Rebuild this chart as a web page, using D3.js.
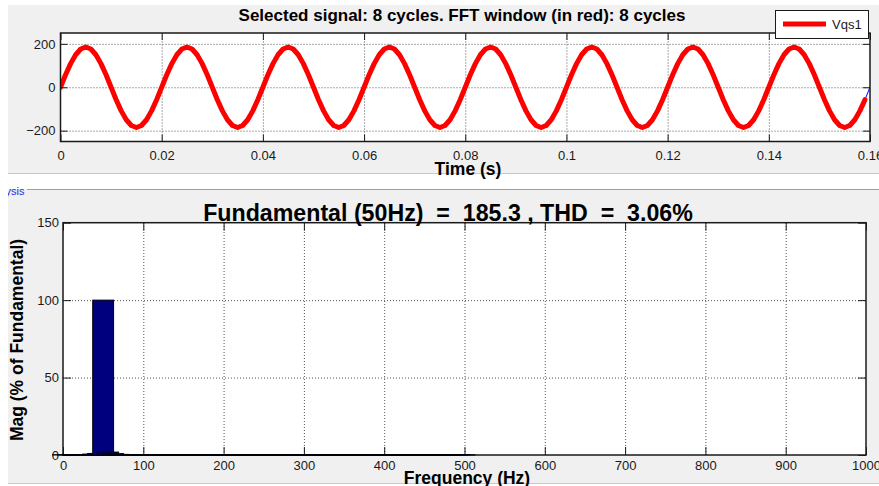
<!DOCTYPE html>
<html>
<head>
<meta charset="utf-8">
<script src="https://cdn.jsdelivr.net/npm/d3@7"></script>
<style>
  html, body { margin: 0; padding: 0; background: #ffffff; }
  svg { display: block; font-family: "Liberation Sans", Arial, Helvetica, sans-serif; }
</style>
</head>
<body>
<svg id="chart" width="879" height="486"></svg>
<script>
// ---- Signal Vqs1: one sample every 1 ms, 8 cycles of 50 Hz ----
const sampleTime = 0.001;
const vqs1 = [
  0, 57.3, 108.9, 149.9, 176.2, 185.3, 176.2, 149.9, 108.9, 57.3, 0, -57.3, -108.9, -149.9, -176.2, -185.3, -176.2, -149.9, -108.9, -57.3,
  0, 57.3, 108.9, 149.9, 176.2, 185.3, 176.2, 149.9, 108.9, 57.3, 0, -57.3, -108.9, -149.9, -176.2, -185.3, -176.2, -149.9, -108.9, -57.3,
  0, 57.3, 108.9, 149.9, 176.2, 185.3, 176.2, 149.9, 108.9, 57.3, 0, -57.3, -108.9, -149.9, -176.2, -185.3, -176.2, -149.9, -108.9, -57.3,
  0, 57.3, 108.9, 149.9, 176.2, 185.3, 176.2, 149.9, 108.9, 57.3, 0, -57.3, -108.9, -149.9, -176.2, -185.3, -176.2, -149.9, -108.9, -57.3,
  0, 57.3, 108.9, 149.9, 176.2, 185.3, 176.2, 149.9, 108.9, 57.3, 0, -57.3, -108.9, -149.9, -176.2, -185.3, -176.2, -149.9, -108.9, -57.3,
  0, 57.3, 108.9, 149.9, 176.2, 185.3, 176.2, 149.9, 108.9, 57.3, 0, -57.3, -108.9, -149.9, -176.2, -185.3, -176.2, -149.9, -108.9, -57.3,
  0, 57.3, 108.9, 149.9, 176.2, 185.3, 176.2, 149.9, 108.9, 57.3, 0, -57.3, -108.9, -149.9, -176.2, -185.3, -176.2, -149.9, -108.9, -57.3,
  0, 57.3, 108.9, 149.9, 176.2, 185.3, 176.2, 149.9, 108.9, 57.3, 0, -57.3, -108.9, -149.9, -176.2, -185.3, -176.2, -149.9, -108.9, -57.3,
  0
];
// number of samples inside the FFT window (drawn in red)
const windowSamples = 160;

// ---- FFT spectrum: % of fundamental, 6.25 Hz bins from 0 to 500 Hz ----
const binStep = 6.25;
const magnitudes = [
  0.2, 0.1, 0.1, 0.1, 0.1, 0.2, 0.6, 1.0, 100, 1.9, 0.9, 0.4, 0.2, 0.1, 0.1, 0.1,
  0.1, 0.1, 0.1, 0.1, 0.1, 0.1, 0.1, 0.1, 0.1, 0.1, 0.1, 0.1, 0.1, 0.1, 0.1, 0.1,
  0.1, 0.1, 0.1, 0.1, 0.1, 0.1, 0.1, 0.1, 0.1, 0.1, 0.1, 0.1, 0.1, 0.1, 0.1, 0.1,
  0.1, 0.1, 0.1, 0.1, 0.1, 0.1, 0.1, 0.1, 0.1, 0.1, 0.1, 0.1, 0.1, 0.1, 0.1, 0.1,
  0.1, 0.1, 0.1, 0.1, 0.1, 0.1, 0.1, 0.1, 0.1, 0.1, 0.1, 0.1, 0.1, 0.1, 0.1, 0.1,
  0.1
];

// ---- Ticks and labels ----
const timeTicks = [0, 0.02, 0.04, 0.06, 0.08, 0.1, 0.12, 0.14, 0.16];
const timeTickLabels = ["0", "0.02", "0.04", "0.06", "0.08", "0.1", "0.12", "0.14", "0.16"];
const voltTicks = [-200, 0, 200];
const freqTicks = [0, 100, 200, 300, 400, 500, 600, 700, 800, 900, 1000];
const freqTickLabels = ["0", "100", "200", "300", "400", "500", "600", "700", "800", "900", "1000"];
const magTicks = [0, 50, 100, 150];

const topTitle = "Selected signal: 8 cycles. FFT window (in red): 8 cycles";
const bottomTitle = "Fundamental (50Hz)  =  185.3 , THD  =  3.06%";
const seriesName = "Vqs1";

// ---------------------------------------------------------------
const svg = d3.select("#chart");
const ink = "#1a1a1a";
const tickFont = 13;

// window panels
svg.append("rect").attr("x", 8).attr("y", 5).attr("width", 871).attr("height", 168).attr("fill", "#f0f0f0");
svg.append("line").attr("x1", 8).attr("x2", 879).attr("y1", 173.5).attr("y2", 173.5).attr("stroke", "#c8c8c8");
svg.append("rect").attr("x", 8).attr("y", 189).attr("width", 871).attr("height", 294).attr("fill", "#f0f0f0");
svg.append("line").attr("x1", 27).attr("x2", 879).attr("y1", 189.5).attr("y2", 189.5).attr("stroke", "#a0a0a0");
svg.append("line").attr("x1", 8).attr("x2", 879).attr("y1", 483.5).attr("y2", 483.5).attr("stroke", "#c8c8c8");

// truncated panel caption
const defs = svg.append("defs");
defs.append("clipPath").attr("id", "capClip").append("rect")
  .attr("x", 8).attr("y", 180).attr("width", 20).attr("height", 20);
svg.append("text").attr("clip-path", "url(#capClip)")
  .attr("x", 24.5).attr("y", 195).attr("text-anchor", "end")
  .attr("font-size", 11).attr("fill", "#2a2ae0").text("ysis");

function styleAxis(g) {
  g.select(".domain").remove();
  g.attr("font-size", tickFont).attr("font-family", null);
  g.selectAll(".tick text").attr("fill", ink);
  g.selectAll(".tick line").attr("stroke", ink);
}
function styleGrid(g) {
  g.select(".domain").remove();
  g.selectAll(".tick line").attr("stroke", "#555").attr("stroke-dasharray", "1,2").attr("stroke-width", 1);
  g.selectAll(".tick text").remove();
}

// ================= Top: time signal =================
const tp = { left: 60.5, right: 870, top: 33, bottom: 141.5 };
const xT = d3.scaleLinear().domain([0, 0.16]).range([tp.left, tp.right]);
const yT = d3.scaleLinear().domain([-250, 250]).range([tp.bottom, tp.top]);

svg.append("rect").attr("x", tp.left).attr("y", tp.top)
  .attr("width", tp.right - tp.left).attr("height", tp.bottom - tp.top).attr("fill", "#fff");

svg.append("g").attr("transform", `translate(0,${tp.bottom})`)
  .call(d3.axisBottom(xT).tickValues(timeTicks.slice(1, -1)).tickSize(-(tp.bottom - tp.top)).tickFormat(""))
  .call(styleGrid);
svg.append("g").attr("transform", `translate(${tp.left},0)`)
  .call(d3.axisLeft(yT).tickValues(voltTicks).tickSize(-(tp.right - tp.left)).tickFormat(""))
  .call(styleGrid);

defs.append("clipPath").attr("id", "topClip").append("rect")
  .attr("x", tp.left).attr("y", tp.top).attr("width", tp.right - tp.left).attr("height", tp.bottom - tp.top);

const sigLine = d3.line().x((d, i) => xT(i * sampleTime)).y(d => yT(d));
const plotT = svg.append("g").attr("clip-path", "url(#topClip)");
plotT.append("path").datum(vqs1).attr("d", sigLine)
  .attr("fill", "none").attr("stroke", "#0000ff").attr("stroke-width", 1);
plotT.append("path").datum(vqs1.slice(0, windowSamples)).attr("d", sigLine)
  .attr("fill", "none").attr("stroke", "#ff0000").attr("stroke-width", 5)
  .attr("stroke-linejoin", "round").attr("stroke-linecap", "round");

svg.append("rect").attr("x", tp.left).attr("y", tp.top)
  .attr("width", tp.right - tp.left).attr("height", tp.bottom - tp.top)
  .attr("fill", "none").attr("stroke", ink).attr("stroke-width", 1.5);

svg.append("g").attr("transform", `translate(0,${tp.bottom})`)
  .call(d3.axisBottom(xT).tickValues(timeTicks).tickFormat((d, i) => timeTickLabels[i])
    .tickSizeInner(-7).tickSizeOuter(0).tickPadding(9))
  .call(styleAxis);
svg.append("g").attr("transform", `translate(0,${tp.top})`)
  .call(d3.axisTop(xT).tickValues(timeTicks).tickFormat("").tickSizeInner(-7).tickSizeOuter(0))
  .call(styleAxis);
svg.append("g").attr("transform", `translate(${tp.left},0)`)
  .call(d3.axisLeft(yT).tickValues(voltTicks).tickSizeInner(-7).tickSizeOuter(0).tickPadding(5))
  .call(styleAxis);
svg.append("g").attr("transform", `translate(${tp.right},0)`)
  .call(d3.axisRight(yT).tickValues(voltTicks).tickFormat("").tickSizeInner(-7).tickSizeOuter(0))
  .call(styleAxis);

svg.append("text").attr("x", 462).attr("y", 21).attr("text-anchor", "middle")
  .attr("font-size", 17).attr("font-weight", "bold").attr("fill", "#000").text(topTitle);
svg.append("text").attr("x", 468).attr("y", 175).attr("text-anchor", "middle")
  .attr("font-size", 17.5).attr("font-weight", "bold").attr("fill", "#000").text("Time (s)");

// legend
const lg = svg.append("g");
lg.append("rect").attr("x", 775.5).attr("y", 10.5).attr("width", 93).attr("height", 28)
  .attr("fill", "#fff").attr("stroke", ink).attr("stroke-width", 1);
lg.append("line").attr("x1", 783).attr("x2", 826).attr("y1", 24).attr("y2", 24)
  .attr("stroke", "#ff0000").attr("stroke-width", 5);
lg.append("text").attr("x", 832).attr("y", 29).attr("font-size", 13).attr("fill", ink).text(seriesName);

// ================= Bottom: FFT spectrum =================
const bp = { left: 63, right: 866, top: 222.7, bottom: 455 };
const xF = d3.scaleLinear().domain([0, 1000]).range([bp.left, bp.right]);
const yM = d3.scaleLinear().domain([0, 150]).range([bp.bottom, bp.top]);
const barHalfHz = 13;

svg.append("rect").attr("x", bp.left).attr("y", bp.top)
  .attr("width", bp.right - bp.left).attr("height", bp.bottom - bp.top).attr("fill", "#fff");

svg.append("g").attr("transform", `translate(0,${bp.bottom})`)
  .call(d3.axisBottom(xF).tickValues(freqTicks.slice(1, -1)).tickSize(-(bp.bottom - bp.top)).tickFormat(""))
  .call(styleGrid);
svg.append("g").attr("transform", `translate(${bp.left},0)`)
  .call(d3.axisLeft(yM).tickValues(magTicks.slice(1, -1)).tickSize(-(bp.right - bp.left)).tickFormat(""))
  .call(styleGrid);

svg.append("rect").attr("x", bp.left).attr("y", bp.top)
  .attr("width", bp.right - bp.left).attr("height", bp.bottom - bp.top)
  .attr("fill", "none").attr("stroke", ink).attr("stroke-width", 1.5);

svg.append("g").attr("transform", `translate(0,${bp.bottom})`)
  .call(d3.axisBottom(xF).tickValues(freqTicks).tickFormat((d, i) => freqTickLabels[i])
    .tickSizeInner(-8).tickSizeOuter(0).tickPadding(6))
  .call(styleAxis);
svg.append("g").attr("transform", `translate(0,${bp.top})`)
  .call(d3.axisTop(xF).tickValues(freqTicks).tickFormat("").tickSizeInner(-8).tickSizeOuter(0))
  .call(styleAxis);
svg.append("g").attr("transform", `translate(${bp.left},0)`)
  .call(d3.axisLeft(yM).tickValues(magTicks).tickSizeInner(-8).tickSizeOuter(0).tickPadding(4))
  .call(styleAxis);
svg.append("g").attr("transform", `translate(${bp.right},0)`)
  .call(d3.axisRight(yM).tickValues(magTicks).tickFormat("").tickSizeInner(-8).tickSizeOuter(0))
  .call(styleAxis);

// spectrum bars, drawn in ascending frequency so later bins overlay earlier ones
svg.append("g").selectAll("rect").data(magnitudes).join("rect")
  .attr("x", (d, i) => xF(i * binStep - barHalfHz))
  .attr("width", (d, i) => xF(i * binStep + barHalfHz) - xF(i * binStep - barHalfHz))
  .attr("y", d => yM(d))
  .attr("height", d => yM(0) - yM(d))
  .attr("fill", "#00007f").attr("stroke", "#000").attr("stroke-width", 1);

svg.append("text").attr("x", 448).attr("y", 221).attr("text-anchor", "middle")
  .attr("font-size", 23.2).attr("font-weight", "bold").attr("fill", "#000")
  .style("white-space", "pre").text(bottomTitle);
svg.append("text").attr("x", 467).attr("y", 483.5).attr("text-anchor", "middle")
  .attr("font-size", 17.5).attr("font-weight", "bold").attr("fill", "#000").text("Frequency (Hz)");
svg.append("text").attr("transform", "translate(23,340) rotate(-90)").attr("text-anchor", "middle")
  .attr("font-size", 17.5).attr("font-weight", "bold").attr("fill", "#000").text("Mag (% of Fundamental)");
</script>
</body>
</html>
